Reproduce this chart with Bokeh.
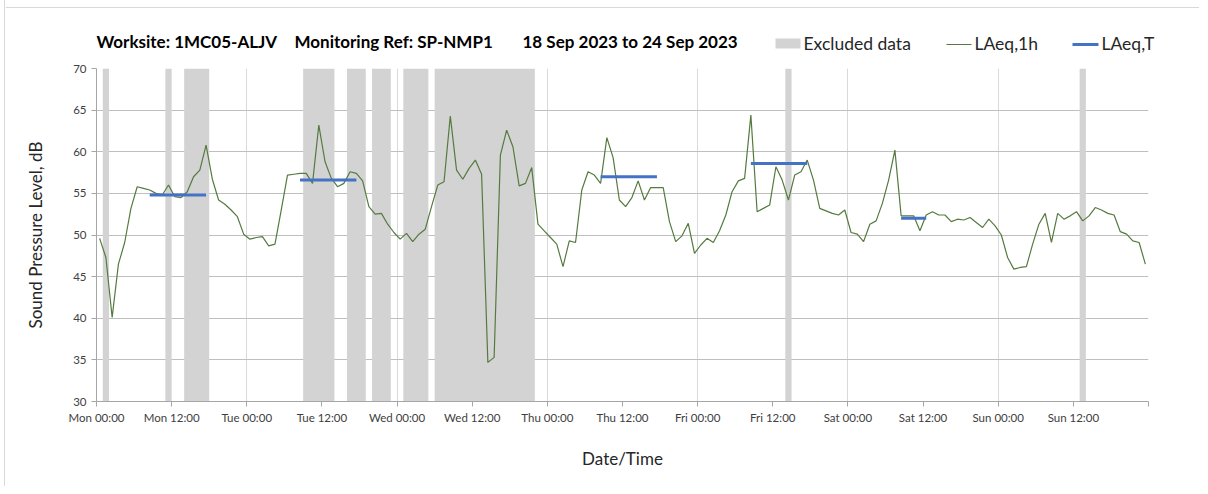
from bokeh.plotting import figure
from bokeh.models import FixedTicker, Label, Range1d, ColumnDataSource
from bokeh.embed import file_html
from bokeh.resources import INLINE

FONT = "Lato"

# ---------------- data ----------------
# mid points of each hourly interval (hours since Mon 18 Sep 2023 00:00)
hour_mid = [k + 0.5 for k in range(168)]

laeq_1h = [
    49.6, 47.3, 40.1, 46.5, 49.1, 53.2, 55.8, 55.6, 55.4, 55.0, 54.8, 56.0,
    54.6, 54.5, 55.2, 57.0, 57.8, 60.8, 56.7, 54.2, 53.7, 53.0, 52.2, 50.1,
    49.5, 49.7, 49.8, 48.7, 48.9, 53.0, 57.2, 57.3, 57.4, 57.4, 56.2, 63.2,
    58.8, 56.8, 55.8, 56.2, 57.6, 57.4, 56.5, 53.4, 52.5, 52.6, 51.3, 50.3,
    49.5, 50.2, 49.2, 50.1, 50.7, 53.4, 56.0, 56.4, 64.3, 57.8, 56.7, 58.0,
    59.0, 57.3, 34.7, 35.3, 59.6, 62.6, 60.6, 55.9, 56.2, 58.1, 51.3, 50.5,
    49.7, 48.9, 46.2, 49.3, 49.1, 55.4, 57.6, 57.2, 56.2, 61.7, 59.3, 54.2,
    53.4, 54.5, 56.5, 54.2, 55.7, 55.7, 55.7, 51.6, 49.2, 49.9, 51.4, 47.8,
    48.8, 49.6, 49.1, 50.5, 52.4, 55.2, 56.5, 56.8, 64.4, 52.8, 53.2, 53.6,
    58.2, 56.6, 54.2, 57.2, 57.6, 59.0, 56.6, 53.2, 52.9, 52.6, 52.4, 53.0,
    50.3, 50.1, 49.2, 51.3, 51.7, 53.8, 56.6, 60.2, 52.3, 52.3, 52.3, 50.5,
    52.4, 52.8, 52.4, 52.4, 51.6, 51.9, 51.8, 52.1, 51.5, 50.9, 51.9, 51.1,
    50.0, 47.3, 45.9, 46.1, 46.2, 48.9, 51.3, 52.6, 49.1, 52.6, 51.9, 52.3,
    52.8, 51.7, 52.3, 53.3, 53.0, 52.6, 52.4, 50.4, 50.1, 49.3, 49.1, 46.5,
]

excl_start = [1, 11, 14, 33, 40, 44, 49, 54, 110, 157]
excl_end = [2, 12, 18, 38, 43, 47, 53, 70, 111, 158]

laeqT_start = [8.5, 32.5, 80.5, 104.5, 128.5]
laeqT_end = [17.5, 41.5, 89.5, 113.5, 132.5]
laeqT_val = [54.8, 56.6, 57.0, 58.6, 52.0]

x_ticks = [0, 12, 24, 36, 48, 60, 72, 84, 96, 108, 120, 132, 144, 156, 168]
x_tick_labels = ["Mon 00:00", "Mon 12:00", "Tue 00:00", "Tue 12:00", "Wed 00:00",
                 "Wed 12:00", "Thu 00:00", "Thu 12:00", "Fri 00:00", "Fri 12:00",
                 "Sat 00:00", "Sat 12:00", "Sun 00:00", "Sun 12:00", ""]
day_lines = [24, 48, 72, 96, 120, 144, 168]
y_ticks = [30, 35, 40, 45, 50, 55, 60, 65, 70]

title_parts = ["Worksite: 1MC05-ALJV", "Monitoring Ref: SP-NMP1", "18 Sep 2023 to 24 Sep 2023"]
legend_labels = ["Excluded data", "LAeq,1h", "LAeq,T"]

EXCL_COLOR = "#d3d3d3"
LINE_COLOR = "#557a3f"
T_COLOR = "#4472C4"
BORDER = "1px solid #d9d9d9"

OFF = 5          # chart-area border offset from the page's left edge
W = 1200 - OFF
TOP_H = 60
TOTAL_H = 486

# ---------------- header (title + legend), pixel coordinates ----------------
top = figure(width=W, height=TOP_H, output_backend="svg", toolbar_location=None,
             x_range=Range1d(OFF, OFF + W), y_range=Range1d(TOP_H, 0),
             x_axis_location=None, y_axis_location=None,
             styles={"margin-left": f"{OFF - 1}px", "border-left": BORDER})
top.min_border_left = top.min_border_right = top.min_border_top = top.min_border_bottom = 0
top.grid.visible = False
top.outline_line_color = None
top.background_fill_color = "white"
top.border_fill_color = "white"

# top edge of the chart area
top.segment(x0=[OFF], x1=[OFF + W], y0=[7], y1=[7], line_color="#d9d9d9", line_width=1)

title_px = [96, 294, 522]
for txt, tx in zip(title_parts, title_px):
    top.add_layout(Label(x=tx, y=41, text=txt, text_font=FONT, text_font_size="17px",
                         text_font_style="bold", text_color="#000000", text_baseline="middle"))

# legend swatches (layout positions)
top.quad(left=[775], right=[800], top=[38], bottom=[48], fill_color=EXCL_COLOR, line_color=None)
top.segment(x0=[946], x1=[971], y0=[44], y1=[44], line_color=LINE_COLOR, line_width=1.2)
top.segment(x0=[1072], x1=[1098], y0=[44], y1=[44], line_color=T_COLOR, line_width=3)
for txt, tx in zip(legend_labels, [803, 974, 1101]):
    top.add_layout(Label(x=tx, y=43, text=txt, text_font=FONT, text_font_size="17.5px",
                         text_color="#262626", text_baseline="middle"))

# ---------------- main chart ----------------
p = figure(width=W, height=TOTAL_H - TOP_H, output_backend="svg", toolbar_location=None,
           x_range=Range1d(0, 168), y_range=Range1d(30, 70),
           styles={"margin-left": f"{OFF - 1}px", "border-left": BORDER})
p.min_border_left = 96 - OFF
p.min_border_right = OFF + W - 1148
p.min_border_top = 8
p.min_border_bottom = TOTAL_H - TOP_H - 8 - 333
p.outline_line_color = None
p.background_fill_color = "white"
p.border_fill_color = "white"

excl_src = ColumnDataSource(dict(left=excl_start, right=excl_end,
                                 bottom=[30] * len(excl_start), top=[70] * len(excl_start)))
p.quad(left="left", right="right", bottom="bottom", top="top", source=excl_src,
       fill_color=EXCL_COLOR, line_color=None)

p.line(hour_mid, laeq_1h, line_color=LINE_COLOR, line_width=1.2)

p.segment(x0=laeqT_start, x1=laeqT_end, y0=laeqT_val, y1=laeqT_val,
          line_color=T_COLOR, line_width=3)

# grids
p.ygrid.ticker = FixedTicker(ticks=y_ticks)
p.ygrid.grid_line_color = "#bfbfbf"
p.ygrid.grid_line_width = 1
p.xgrid.ticker = FixedTicker(ticks=day_lines)
p.xgrid.grid_line_color = "#d9d9d9"
p.xgrid.grid_line_width = 1

# axes
p.xaxis.ticker = FixedTicker(ticks=x_ticks)
p.xaxis.major_label_overrides = {t: l for t, l in zip(x_ticks, x_tick_labels)}
p.yaxis.ticker = FixedTicker(ticks=y_ticks)
for ax in (p.xaxis[0], p.yaxis[0]):
    ax.axis_line_color = "#a6a6a6"
    ax.major_tick_line_color = "#a6a6a6"
    ax.minor_tick_line_color = None
    ax.major_tick_in = 0
    ax.major_tick_out = 5
    ax.major_label_text_font = FONT
    ax.major_label_text_font_size = "11.5px"
    ax.major_label_text_color = "#404040"
    ax.axis_label_text_font = FONT
    ax.axis_label_text_font_style = "normal"
    ax.axis_label_text_font_size = "17px"
    ax.axis_label_text_color = "#262626"
p.xaxis.major_label_standoff = 4
p.yaxis.major_label_standoff = 5
p.xaxis.axis_label = "Date/Time"
p.yaxis.axis_label = "Sound Pressure Level, dB"
p.xaxis.axis_label_standoff = 21
p.yaxis.axis_label_standoff = 24

open("out.html", "w").write(file_html([top, p], INLINE))
